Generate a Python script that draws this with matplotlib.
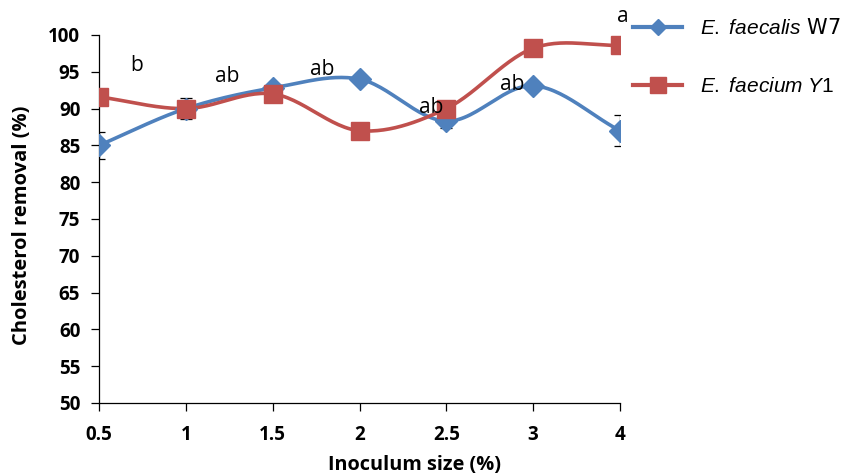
import numpy as np
import matplotlib
matplotlib.use("Agg")
import matplotlib.pyplot as plt
from matplotlib.lines import Line2D

# datos
inoculo = ["0.5", "1", "1.5", "2", "2.5", "3", "4"]
faecalis = [85.0, 90.0, 92.8, 94.0, 88.3, 93.1, 87.0]
faecalis_err = [1.8, 1.4, 0.3, 0.3, 1.0, 0.5, 2.1]
faecium = [91.6, 90.0, 92.0, 87.0, 90.0, 98.2, 98.6]
faecium_err = [0.3, 0.3, 0.3, 0.3, 0.3, 0.3, 0.3]
letras = ["b", "ab", "ab", "ab", "ab", "a"]
letras_x = [0.43, 1.48, 2.57, 3.83, 4.76, 6.03]
letras_y = [95.8, 94.3, 95.3, 90.2, 93.3, 102.5]

AZUL = "#4F81BD"
ROJO = "#C0504D"

plt.rcParams['mathtext.fontset'] = 'custom'
plt.rcParams['mathtext.it'] = 'Liberation Sans:italic'
plt.rcParams['mathtext.rm'] = 'Liberation Sans'


def suavizar(y, n=30):
    # curva tipo Catmull-Rom (linea suavizada estilo Excel)
    x = np.arange(len(y), dtype=float)
    y = np.asarray(y, dtype=float)
    px = np.concatenate([[2 * x[0] - x[1]], x, [2 * x[-1] - x[-2]]])
    py = np.concatenate([[2 * y[0] - y[1]], y, [2 * y[-1] - y[-2]]])
    xs, ys = [], []
    t = np.linspace(0, 1, n)
    for i in range(1, len(px) - 2):
        for p, out in ((px, xs), (py, ys)):
            p0, p1, p2, p3 = p[i - 1], p[i], p[i + 1], p[i + 2]
            out.extend(0.5 * (2 * p1 + (-p0 + p2) * t
                              + (2 * p0 - 5 * p1 + 4 * p2 - p3) * t ** 2
                              + (-p0 + 3 * p1 - 3 * p2 + p3) * t ** 3))
    return np.array(xs), np.array(ys)


fig = plt.figure(figsize=(8.41, 4.74), dpi=100)
ax = fig.add_axes([99 / 841, 0.1498, 521 / 841, 0.7764])

x = np.arange(len(inoculo))

# barras de error
ax.errorbar(x, faecalis, yerr=faecalis_err, fmt='none', ecolor='black',
            elinewidth=0.9, capsize=4, capthick=0.9, zorder=2)
ax.errorbar(x, faecium, yerr=faecium_err, fmt='none', ecolor='black',
            elinewidth=0.9, capsize=4, capthick=0.9, zorder=2)

xs, ys = suavizar(faecalis)
ax.plot(xs, ys, color=AZUL, lw=2.6, zorder=3)
ax.plot(x, faecalis, 'D', color=AZUL, ms=11, zorder=4)

xs, ys = suavizar(faecium)
ax.plot(xs, ys, color=ROJO, lw=2.6, zorder=3)
ax.plot(x, faecium, 's', color=ROJO, ms=13, zorder=5)

for t, lx, ly in zip(letras, letras_x, letras_y):
    ax.text(lx, ly, t, ha='center', va='center', fontsize=15,
            family='Open Sans', clip_on=False, zorder=6)

ax.set_xlim(0, len(inoculo) - 1)
ax.set_ylim(50, 100)
ax.set_xticks(x)
ax.set_xticklabels(inoculo)
ax.set_yticks(np.arange(50, 101, 5))
for s in ['top', 'right']:
    ax.spines[s].set_visible(False)
for s in ['left', 'bottom']:
    ax.spines[s].set_color('black')
    ax.spines[s].set_linewidth(0.9)
ax.tick_params(direction='out', length=5.5, width=0.9)
ax.tick_params(axis='y', pad=8)
ax.tick_params(axis='x', pad=10)
for lab in ax.get_xticklabels() + ax.get_yticklabels():
    lab.set_fontfamily('Open Sans')
    lab.set_fontweight('bold')
    lab.set_fontsize(13.5)

fig.text(22 / 841, 1 - 225 / 474, 'Cholesterol removal (%)', rotation=90,
         ha='center', va='center', fontfamily='Open Sans', fontweight='bold',
         fontsize=14.5)
fig.text(414 / 841, 1 - 465 / 474, 'Inoculum size (%)', ha='center', va='center',
         fontfamily='Open Sans', fontweight='bold', fontsize=14.3)

handles = [Line2D([], [], color=AZUL, lw=3, marker='D', ms=8),
           Line2D([], [], color=ROJO, lw=3, marker='s', ms=11)]
etiquetas = [r'$\mathit{E.\ faecalis}$ W7', r'$\mathit{E.\ faecium\ Y1}$']
fig.legend(handles, etiquetas, loc='upper left', bbox_to_anchor=(625 / 841, 1 - 10 / 474),
           frameon=False, fontsize=15, handlelength=2.35, handletextpad=0.85,
           labelspacing=1.8, borderaxespad=0)

fig.savefig('out.png', dpi=100)
